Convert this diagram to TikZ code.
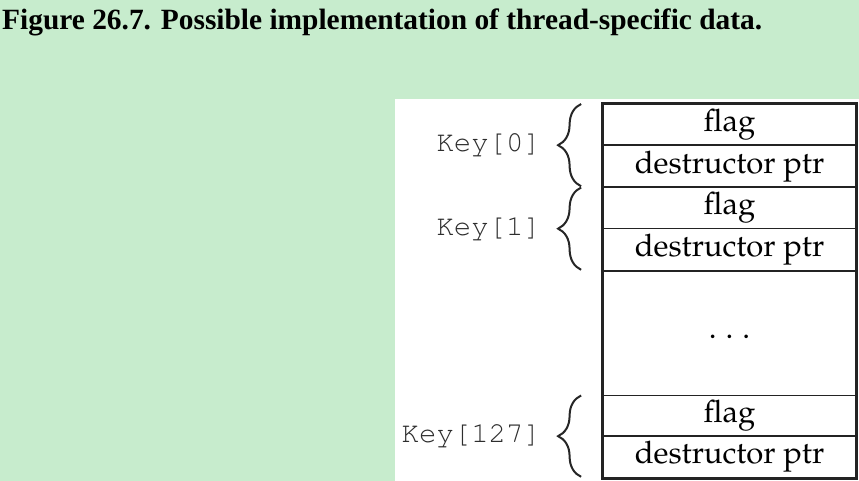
\documentclass[tikz,border=0pt]{standalone}
\usepackage{fontspec}
\setmainfont{Liberation Serif}
\usetikzlibrary{decorations.pathreplacing}
\definecolor{PageGreen}{RGB}{199,236,205}
\definecolor{KeyGray}{RGB}{45,45,45}
\definecolor{TableLine}{RGB}{35,35,35}
\newcommand{\cellfont}{\fontsize{31}{37}\usefont{OT1}{ppl}{m}{n}}
\newcommand{\keyfont}{\fontsize{29}{34}\usefont{OT1}{pcr}{m}{n}}

\begin{document}
\begin{tikzpicture}[x=1pt,y=-1pt,
  cell/.style={draw=TableLine,line width=1.8pt,minimum width=252pt,minimum height=#1pt,inner sep=0pt,font=\cellfont},
  keybrace/.style={draw=black!85,line width=2pt,decorate,decoration={brace,amplitude=23pt}},
  keylabel/.style={anchor=east,inner sep=0pt,text=KeyGray,font=\keyfont}]
\useasboundingbox (0,0) rectangle (859,481);
\fill[PageGreen] (0,0) rectangle (859,481);
\fill[white] (395,99.5) rectangle (859,481);
\node[anchor=base west,inner sep=0pt,font=\fontsize{29.4}{35}\selectfont\bfseries] (title) at (2,30)
   {Figure 26.7. Possible implementation of thread-specific data.};
% the table, one row at a time
\foreach \n/\y/\h/\t in %
{f0/103/41.5/flag,d0/144.5/42/destructor ptr,f1/186.5/41/flag,d1/227.5/42.5/destructor ptr,%
 f127/394.5/40.5/flag,d127/435/42/destructor ptr} {
   \node[cell=\h,anchor=north] (\n) at (729.5,\y) {\t};
}
\node[cell=124.5,anchor=north] (gap) at (729.5,270) {};
\node[font=\cellfont,inner sep=0pt] (dots) at ([yshift=-4pt]gap.center) {.\hspace{9pt}.\hspace{9pt}.};
\draw[TableLine,line width=2.6pt] (f0.north west) rectangle (d127.south east);
% braces and key names
\foreach \k/\g/\h in {0/f0/d0,1/f1/d1,127/f127/d127} {
   \draw[keybrace] ([xshift=-21.5pt,yshift=2pt]\h.south west) -- ([xshift=-21.5pt,yshift=-1pt]\g.north west)
      coordinate[midway] (tip\k);
   \node[keylabel] (key\k) at ([xshift=-40pt]tip\k) {Key[\k]};
}
\end{tikzpicture}
\end{document}
